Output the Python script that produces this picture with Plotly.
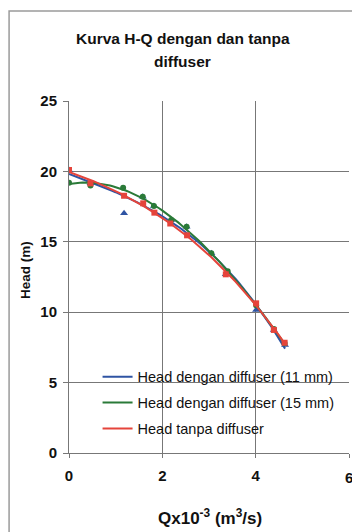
import numpy as np
import plotly.graph_objects as go

# Flow rate Q (x10^-3 m^3/s) and head H (m) for each configuration
q_11mm = [0, 0.46, 1.18, 1.58, 1.82, 2.19, 2.52, 3.05, 3.36, 4.01, 4.39, 4.63]
h_11mm = [20.1, 19.15, 17.02, 18.2, 17.55, 16.55, 16.07, 14.18, 12.69, 10.16, 8.74, 7.67]

q_15mm = [0, 0.46, 1.16, 1.58, 1.82, 2.19, 2.52, 3.05, 3.40, 4.01, 4.39, 4.62]
h_15mm = [19.2, 19.0, 18.84, 18.2, 17.55, 16.55, 16.07, 14.18, 12.9, 10.5, 8.8, 7.8]

q_tanpa = [0, 0.46, 1.18, 1.59, 1.83, 2.17, 2.53, 3.36, 4.01, 4.39, 4.62]
h_tanpa = [20.1, 19.15, 18.27, 17.73, 17.07, 16.3, 15.46, 12.69, 10.63, 8.74, 7.83]

x_ticks = [0, 2, 4, 6]
y_ticks = [0, 5, 10, 15, 20, 25]

BLUE = "#2f54a3"
GREEN = "#2a7a38"
RED = "#e5443b"
FONT = "Liberation Sans, Arial, sans-serif"
INK = "#111111"
GRID = "#777777"


def trend(q, h, order=3, n=80):
    """Polynomial trendline through a measured H-Q series."""
    c = np.polyfit(q, h, order)
    qq = np.linspace(min(q), max(q), n)
    return qq, np.polyval(c, qq)


series = [
    ("Head dengan diffuser (11 mm)", BLUE, "triangle-up", 7, q_11mm, h_11mm),
    ("Head dengan diffuser (15 mm)", GREEN, "circle", 6, q_15mm, h_15mm),
    ("Head tanpa diffuser", RED, "square", 6, q_tanpa, h_tanpa),
]

fig = go.Figure()

for i, (name, color, symbol, size, qx, hy) in enumerate(series):
    lx, ly = trend(qx, hy)
    fig.add_trace(go.Scatter(
        x=qx, y=hy, mode="markers", showlegend=False, hoverinfo="skip",
        marker=dict(symbol=symbol, size=size, color=color),
    ))
    fig.add_trace(go.Scatter(
        x=lx, y=ly, mode="lines", name=name, legendgroup=f"g{i}",
        line=dict(color=color, width=2),
    ))

fig.update_layout(
    width=352, height=532, autosize=False,
    margin=dict(l=69, r=3, t=101, b=79, autoexpand=False),
    paper_bgcolor="white", plot_bgcolor="white",
    font=dict(family=FONT, size=14, color=INK),
    showlegend=True,
    legend=dict(
        x=0.102, y=0.262, xanchor="left", yanchor="top",
        bgcolor="rgba(0,0,0,0)", borderwidth=0,
        font=dict(family=FONT, size=14.5, color=INK),
        traceorder="grouped", tracegroupgap=4,
        itemwidth=30,
    ),
    xaxis=dict(
        range=[0, 6], tickvals=x_ticks, ticktext=[f"<b>{v}</b>" for v in x_ticks],
        showgrid=True, gridcolor=GRID, gridwidth=1,
        showline=True, linecolor=GRID, linewidth=1,
        ticks="outside", ticklen=4, tickcolor=GRID,
        tickfont=dict(family=FONT, size=15, color=INK),
        ticklabelstandoff=5, zeroline=False,
    ),
    yaxis=dict(
        range=[0, 25], tickvals=y_ticks, ticktext=[f"<b>{v}</b>" for v in y_ticks],
        showgrid=True, gridcolor=GRID, gridwidth=1,
        showline=True, linecolor=GRID, linewidth=1,
        ticks="outside", ticklen=5, tickcolor=GRID,
        tickfont=dict(family=FONT, size=15, color=INK),
        ticklabelstandoff=3, zeroline=False,
    ),
)

# white panel behind the legend, above the grid
fig.add_shape(
    type="rect", xref="paper", yref="paper",
    x0=0.09, x1=1.02, y0=(453 - 442) / 352, y1=(453 - 360) / 352,
    fillcolor="white", line=dict(width=0), layer="between",
)

# last x tick label sits on the right edge
fig.add_annotation(
    text="<b>6</b>", xref="x", x=6, yref="paper", y=(453 - 477) / 352,
    xanchor="center", yanchor="middle", showarrow=False,
    font=dict(family=FONT, size=15, color=INK),
)

# chart title, two lines
fig.add_annotation(
    text="<b>Kurva H-Q dengan dan tanpa</b>",
    xref="paper", yref="paper", x=0.407, y=(453 - 38) / 352,
    xanchor="center", yanchor="middle", showarrow=False,
    font=dict(family=FONT, size=15.5, color=INK),
)
fig.add_annotation(
    text="<b>diffuser</b>",
    xref="paper", yref="paper", x=0.407, y=(453 - 62) / 352,
    xanchor="center", yanchor="middle", showarrow=False,
    font=dict(family=FONT, size=15.5, color=INK),
)
# axis titles
fig.add_annotation(
    text="<b>Head (m)</b>", textangle=-90,
    xref="paper", yref="paper", x=(25 - 69) / 280, y=(453 - 270) / 352,
    xanchor="center", yanchor="middle", showarrow=False,
    font=dict(family=FONT, size=13.5, color=INK),
)
fig.add_annotation(
    text="<b>Qx10<sup>-3</sup> (m<sup>3</sup>/s)</b>",
    xref="paper", yref="paper", x=0.504, y=(453 - 517) / 352,
    xanchor="center", yanchor="middle", showarrow=False,
    font=dict(family=FONT, size=17, color=INK),
)
# outer chart frame
fig.add_shape(
    type="rect", xref="paper", yref="paper",
    x0=-0.214, x1=1.3, y0=-0.5, y1=(453 - 11) / 352,
    line=dict(color="#9a9a9a", width=1.5), layer="below",
)

fig.write_html("out.html")
